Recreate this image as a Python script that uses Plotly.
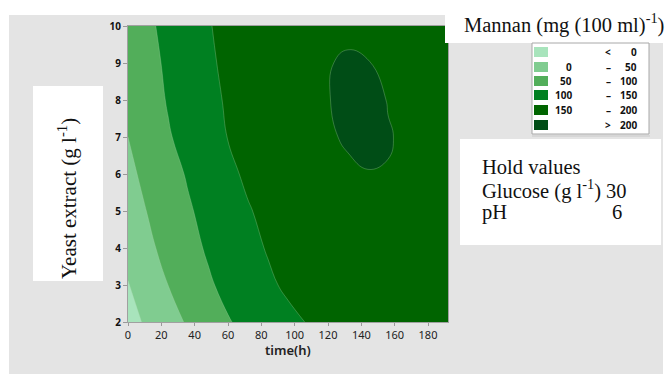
import plotly.graph_objects as go

# ---- data: estimated response surface (Mannan, mg (100 ml)^-1) ----
time_h = [0, 12, 24, 36, 48, 60, 72, 84, 96, 108, 120, 132, 144, 156, 168, 180, 192]
yeast_extract = [2, 3, 4, 5, 6, 7, 8, 9, 10]
mannan = [
    [-17,  8,  32,  55,  76,  97, 112, 126, 140, 152, 161, 167, 171, 174, 176, 176, 175],  # y=2
    [ -2, 24,  50,  72,  94, 112, 128, 143, 157, 166, 173, 178, 181, 183, 183, 182, 180],  # y=3
    [ 14, 41,  64,  86, 105, 122, 138, 153, 163, 172, 180, 186, 190, 192, 192, 190, 187],  # y=4
    [ 27, 52,  73,  95, 113, 130, 147, 160, 171, 180, 187, 193, 196, 197, 196, 194, 190],  # y=5
    [ 40, 62,  84, 104, 123, 141, 157, 168, 178, 186, 192, 196, 199, 199, 196, 193, 189],  # y=6
    [ 50, 73,  96, 115, 133, 151, 164, 175, 184, 192, 197, 203, 207, 201.5, 196, 190, 184],  # y=7
    [ 59, 81, 103, 121, 138, 155, 168, 179, 188, 195, 199, 207, 209, 199, 193, 186, 179],  # y=8
    [ 66, 87, 107, 125, 143, 159, 170, 181, 189, 195, 198, 205, 201, 195, 189, 182, 174],  # y=9
    [ 72, 93, 111, 129, 147, 162, 172, 181, 187, 191, 192, 191, 189, 186, 182, 177, 171],  # y=10
]
levels = [0, 50, 100, 150, 200]
band_colors = ["#a8e4bc", "#80cc90", "#52ae5a", "#008021", "#006400", "#004d16"]
legend_low = ["", "0", "50", "100", "150", ""]
legend_mid = ["<", "\u2013", "\u2013", "\u2013", "\u2013", ">"]
legend_high = ["0", "50", "100", "150", "200", "200"]
x_ticks = [0, 20, 40, 60, 80, 100, 120, 140, 160, 180]
y_ticks = [2, 3, 4, 5, 6, 7, 8, 9, 10]
hold_names = ["Glucose (g l<sup>-1</sup>)", "pH"]
hold_values = ["30", "6"]

W, H = 672, 374
L, R, T, B = 128, 448, 26, 322


def px(x):
    return (x - L) / (R - L)


def py(y):
    return (B - y) / (B - T)


n = len(band_colors)
cscale = [[i / (n - 1), c] for i, c in enumerate(band_colors)]

fig = go.Figure(go.Contour(
    x=time_h, y=yeast_extract, z=mannan,
    autocontour=False,
    contours=dict(start=levels[0], end=levels[-1], size=levels[1] - levels[0], coloring="fill"),
    colorscale=cscale, showscale=False,
    line=dict(width=0.6, color="rgba(175,215,175,0.5)", smoothing=1.3),
    hoverinfo="skip",
))

serif = "Liberation Serif"
sans = "Noto Sans"
shapes = [
    # gray panel
    dict(type="rect", xref="paper", yref="paper", x0=px(9), x1=px(663), y0=py(15), y1=py(374),
         fillcolor="#e4e4e4", line=dict(width=0), layer="below"),
    # y-title white box
    dict(type="rect", xref="paper", yref="paper", x0=px(33), x1=px(103), y0=py(86), y1=py(281),
         fillcolor="white", line=dict(width=0), layer="above"),
    # title white box
    dict(type="rect", xref="paper", yref="paper", x0=px(445), x1=px(672), y0=py(0), y1=py(43),
         fillcolor="white", line=dict(width=0), layer="above"),
    # legend box
    dict(type="rect", xref="paper", yref="paper", x0=px(532), x1=px(649), y0=py(43), y1=py(134),
         fillcolor="white", line=dict(width=1, color="#a8a8a8"), layer="above"),
    dict(type="line", xref="paper", yref="paper", x0=px(532), x1=px(650), y0=py(136), y1=py(136),
         line=dict(width=1, color="#c8c8c8"), layer="above"),
    # hold values box
    dict(type="rect", xref="paper", yref="paper", x0=px(460), x1=px(661), y0=py(139), y1=py(245),
         fillcolor="white", line=dict(width=0), layer="above"),
]
annotations = []
row_y = [52, 67, 81, 95, 110, 125]
for i in range(n):
    cy = row_y[i]
    shapes.append(dict(type="rect", xref="paper", yref="paper", x0=px(534), x1=px(548),
                       y0=py(cy + 5), y1=py(cy - 5), fillcolor=band_colors[i], line=dict(width=0),
                       layer="above"))
    lf = dict(family=sans, size=10, color="#111", weight="bold")
    if legend_low[i]:
        annotations.append(dict(x=px(574), y=py(cy), xref="paper", yref="paper", text=legend_low[i],
                                xanchor="right", yanchor="middle", showarrow=False, font=lf))
    annotations.append(dict(x=px(608), y=py(cy), xref="paper", yref="paper", text=legend_mid[i],
                            xanchor="center", yanchor="middle", showarrow=False, font=lf))
    annotations.append(dict(x=px(639), y=py(cy), xref="paper", yref="paper", text=legend_high[i],
                            xanchor="right", yanchor="middle", showarrow=False, font=lf))

sf = dict(family=serif, size=20.5, color="#111")
yf = dict(family=serif, size=21, color="#111")
annotations += [
    dict(x=px(462), y=py(24), xref="paper", yref="paper", text="Mannan (mg (100 ml)<sup>-1</sup>)",
         xanchor="left", yanchor="middle", showarrow=False, font=sf),
    dict(x=px(67), y=py(199), xref="paper", yref="paper", text="Yeast extract (g l<sup>-1</sup>)",
         xanchor="center", yanchor="middle", showarrow=False, font=yf, textangle=-90),
    dict(x=px(480), y=py(167), xref="paper", yref="paper", text="Hold values",
         xanchor="left", yanchor="middle", showarrow=False, font=sf),
    dict(x=px(480), y=py(189), xref="paper", yref="paper", text=hold_names[0] + " " + hold_values[0],
         xanchor="left", yanchor="middle", showarrow=False, font=sf),
    dict(x=px(480), y=py(212), xref="paper", yref="paper", text=hold_names[1],
         xanchor="left", yanchor="middle", showarrow=False, font=sf),
    dict(x=px(624), y=py(212), xref="paper", yref="paper", text=hold_values[1],
         xanchor="right", yanchor="middle", showarrow=False, font=sf),
    dict(x=px(288), y=py(350), xref="paper", yref="paper", text="time(h)",
         xanchor="center", yanchor="middle", showarrow=False,
         font=dict(family=sans, size=13, color="#222", weight=600)),
]

fig.update_layout(
    width=W, height=H,
    margin=dict(l=L, r=W - R, t=T, b=H - B, pad=0),
    paper_bgcolor="white", plot_bgcolor="white",
    shapes=shapes, annotations=annotations,
    showlegend=False,
)
fig.update_xaxes(range=[0, 192], tickvals=x_ticks, ticks="outside", ticklen=3, tickcolor="#999",
                 showline=True, linecolor="#a0a0a0", linewidth=1, mirror=True, showgrid=False,
                 zeroline=False, tickfont=dict(family=sans, size=11, color="#222"))
fig.update_yaxes(range=[2, 10], tickvals=y_ticks, ticks="outside", ticklen=4, tickcolor="#999",
                 showline=True, linecolor="#a0a0a0", linewidth=1, mirror=True, showgrid=False,
                 zeroline=False, tickfont=dict(family=sans, size=10, color="#111", weight="bold"))

fig.write_html("out.html")
